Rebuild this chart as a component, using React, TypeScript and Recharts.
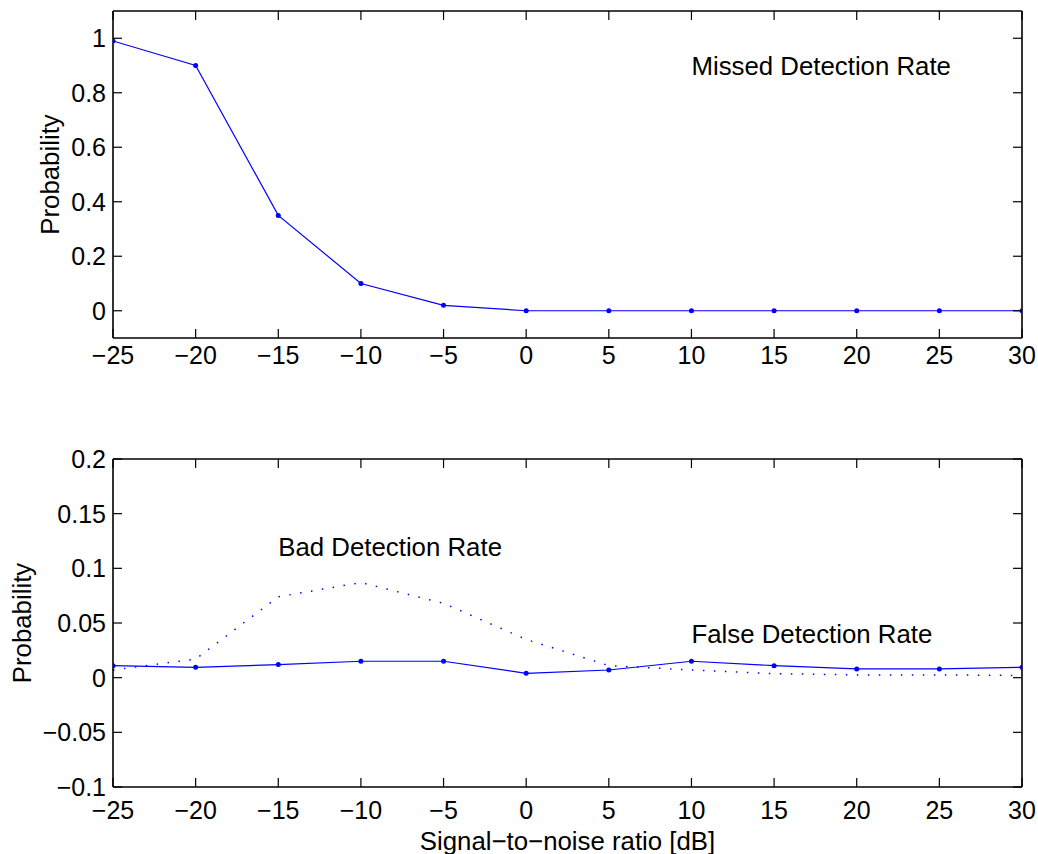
import React from "react";
import { LineChart, Line, XAxis, YAxis, ReferenceDot } from "recharts";

// signal-to-noise ratio steps [dB]
const SNR = [-25, -20, -15, -10, -5, 0, 5, 10, 15, 20, 25, 30];
const MISSED = [0.99, 0.9, 0.35, 0.1, 0.02, 0, 0, 0, 0, 0, 0, 0];
const FALSE_RATE = [0.011, 0.0095, 0.012, 0.015, 0.015, 0.004, 0.007, 0.015, 0.011, 0.008, 0.008, 0.0095];
const BAD_RATE = [0.007, 0.017, 0.074, 0.087, 0.068, 0.035, 0.011, 0.007, 0.0037, 0.0025, 0.0025, 0.002];

const TOP_Y_TICKS = [0, 0.2, 0.4, 0.6, 0.8, 1];
const BOTTOM_Y_TICKS = [-0.1, -0.05, 0, 0.05, 0.1, 0.15, 0.2];

const FONT = '"Liberation Sans", Arial, Helvetica, sans-serif';
const BLUE = "#0000ff";
const TICK_FS = 25;
const LABEL_FS = 25.8;
const TICK_LEN = 9;
const GAP = 7;
const AXIS_LINE = { stroke: "#000", strokeWidth: 1.6 };

const fmt = (v: number) => (v < 0 ? "\u2212" + Math.abs(v) : String(v));

const topData = SNR.map((x, i) => ({ snr: x, missed: MISSED[i] }));
const bottomData = SNR.map((x, i) => ({ snr: x, fa: FALSE_RATE[i], bad: BAD_RATE[i] }));

// matlab-style ticks: marks point inward, labels outside
function BottomTick({ x, y, payload, gap }: any) {
  const y0 = y - gap;
  return (
    <g>
      <line x1={x} x2={x} y1={y0} y2={y0 - TICK_LEN} stroke="#000" strokeWidth={1.2} />
      <text x={x} y={y} dy="0.71em" textAnchor="middle" fontSize={TICK_FS} fontFamily={FONT} fill="#000">
        {fmt(payload.value)}
      </text>
    </g>
  );
}

function LeftTick({ x, y, payload }: any) {
  const x0 = x + GAP;
  return (
    <g>
      <line x1={x0} x2={x0 + TICK_LEN} y1={y} y2={y} stroke="#000" strokeWidth={1.2} />
      <text x={x} y={y} dy="0.355em" textAnchor="end" fontSize={TICK_FS} fontFamily={FONT} fill="#000">
        {fmt(payload.value)}
      </text>
    </g>
  );
}

const TopTick = ({ x, y }: any) => <line x1={x} x2={x} y1={y} y2={y + TICK_LEN} stroke="#000" strokeWidth={1.2} />;
const RightTick = ({ x, y }: any) => <line x1={x} x2={x - TICK_LEN} y1={y} y2={y} stroke="#000" strokeWidth={1.2} />;

function YLabel({ viewBox, x0 }: any) {
  const cy = viewBox.y + viewBox.height / 2;
  return (
    <text x={x0} y={cy} transform={`rotate(-90 ${x0} ${cy})`} textAnchor="middle"
      dominantBaseline="central" fontSize={LABEL_FS} fontFamily={FONT} fill="#000">
      Probability
    </text>
  );
}

function note(text: string) {
  return { value: text, position: "right" as const, offset: 0, fontSize: LABEL_FS, fontFamily: FONT, fill: "#000" };
}

function frameAxes(yDomain: [number, number], yTicks: number[], labelX: number, xTitle: boolean, xGap: number) {
  return [
    <XAxis key="xb" dataKey="snr" type="number" domain={[-25, 30]} ticks={SNR} allowDataOverflow interval={0}
      tick={<BottomTick gap={xGap} />} tickLine={false} tickSize={0} tickMargin={xGap} axisLine={AXIS_LINE}
      height={xTitle ? 67 : 40}
      label={xTitle ? { value: "Signal\u2212to\u2212noise ratio [dB]", position: "insideBottom", offset: 4,
        fontSize: LABEL_FS, fontFamily: FONT, fill: "#000" } : undefined} />,
    <XAxis key="xt" xAxisId="top" orientation="top" dataKey="snr" type="number" domain={[-25, 30]} ticks={SNR}
      allowDataOverflow interval={0} tick={<TopTick />} tickLine={false} tickSize={0} tickMargin={0}
      axisLine={AXIS_LINE} height={1} />,
    <YAxis key="yl" type="number" domain={yDomain} ticks={yTicks} allowDataOverflow interval={0}
      tick={<LeftTick />} tickLine={false} tickSize={0} tickMargin={GAP} axisLine={AXIS_LINE} width={113}
      label={{ content: (p: any) => <YLabel viewBox={p.viewBox} x0={labelX} /> }} />,
    <YAxis key="yr" yAxisId="right" orientation="right" type="number" domain={yDomain} ticks={yTicks}
      allowDataOverflow interval={0} tick={<RightTick />} tickLine={false} tickSize={0} tickMargin={0}
      axisLine={AXIS_LINE} width={1} />,
  ];
}

export default function App() {
  return (
    <div style={{ position: "absolute", left: 0, top: 0, width: 1038, height: 854, background: "#fff" }}>
      <LineChart width={1038} height={440} data={topData} margin={{ top: 10, right: 15, left: 0, bottom: 62 }}>
        {frameAxes([-0.1, 1.1], TOP_Y_TICKS, 50, false, 8)}
        <Line dataKey="missed" stroke={BLUE} strokeWidth={1.2} isAnimationActive={false}
          dot={{ r: 2.5, fill: BLUE, stroke: "none" }} activeDot={false} />
        <ReferenceDot x={10} y={0.9} r={0} fill="none" stroke="none" label={note("Missed Detection Rate")} />
      </LineChart>
      <LineChart width={1038} height={414} data={bottomData} margin={{ top: 18, right: 15, left: 0, bottom: 0 }}>
        {frameAxes([-0.1, 0.2], BOTTOM_Y_TICKS, 22, true, 14)}
        <Line dataKey="bad" stroke={BLUE} strokeWidth={1.5} strokeDasharray="1.5 9.5" isAnimationActive={false}
          dot={false} activeDot={false} />
        <Line dataKey="fa" stroke={BLUE} strokeWidth={1.2} isAnimationActive={false}
          dot={{ r: 2.5, fill: BLUE, stroke: "none" }} activeDot={false} />
        <ReferenceDot x={-15} y={0.12} r={0} fill="none" stroke="none" label={note("Bad Detection Rate")} />
        <ReferenceDot x={10} y={0.04} r={0} fill="none" stroke="none" label={note("False Detection Rate")} />
      </LineChart>
    </div>
  );
}
